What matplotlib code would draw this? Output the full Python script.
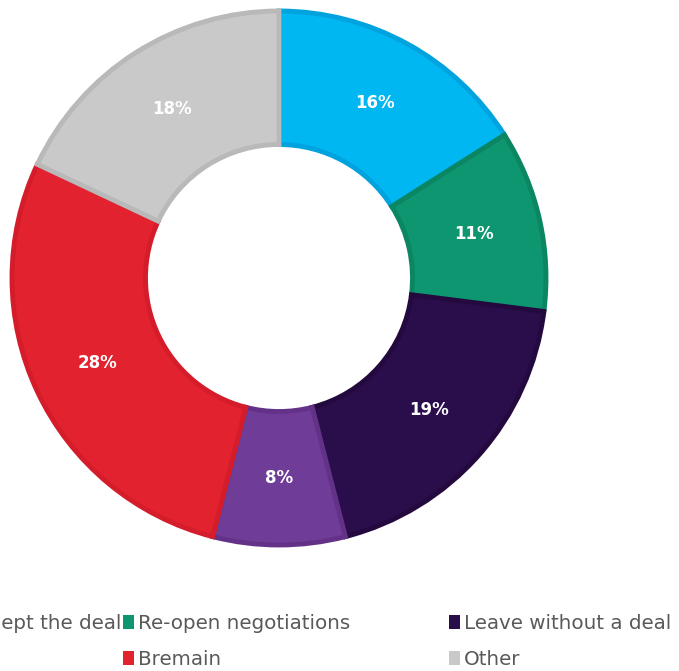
import matplotlib
matplotlib.use('Agg')
import matplotlib.pyplot as plt
from matplotlib.patches import Patch

# share of respondents, clockwise from 12 o'clock
labels = ['Accept the deal', 'Re-open negotiations', 'Leave without a deal',
          'Delay', 'Bremain', 'Other']
values = [16, 11, 19, 8, 28, 18]
colors = ['#00B7F1', '#0E9671', '#2A0E4B', '#6F3C97', '#E3222F', '#C9C9C9']
edges = ['#00A3DE', '#0B8663', '#24093F', '#633288', '#D41C2A', '#B9B9B9']

W, H = 679, 671
fig = plt.figure(figsize=(W / 100, H / 100), dpi=100)
ax = fig.add_axes([0, 0, 1, 1])
ax.set_xlim(0, W)
ax.set_ylim(0, H)
ax.set_aspect('equal')
ax.axis('off')

cx, cy, r = 279, H - 278, 267
wedges, texts, autotexts = ax.pie(
    values, colors=colors, startangle=90, counterclock=False,
    center=(cx, cy), radius=r, autopct='%d%%', pctdistance=0.75,
    wedgeprops=dict(width=r * 0.5, linewidth=3.5),
    textprops=dict(color='white', fontsize=12, fontweight='bold',
                   family='DejaVu Sans'))
for w, ec in zip(wedges, edges):
    w.set_edgecolor(ec)
ax.set_xlim(0, W)
ax.set_ylim(0, H)

# legend laid out in three columns like the original
handles = [Patch(facecolor=c, edgecolor='none') for c in colors]
legend_font = dict(family='DejaVu Sans', size=14.3)
top = 1 - 614 / H
cols = [
    ([0], (121 / W, top), 'upper right'),
    ([1, 4], (123 / W, top), 'upper left'),
    ([2, 5], (449 / W, top), 'upper left'),
]
for idx, anchor, loc in cols:
    leg = fig.legend([handles[i] for i in idx], [labels[i] for i in idx],
                     loc=loc, bbox_to_anchor=anchor, frameon=False,
                     prop=legend_font, handlelength=0.55, handleheight=0.75,
                     handletextpad=0.2, labelspacing=0.85, borderpad=0,
                     borderaxespad=0, labelcolor='#595959')

fig.savefig('out.png', dpi=100)
